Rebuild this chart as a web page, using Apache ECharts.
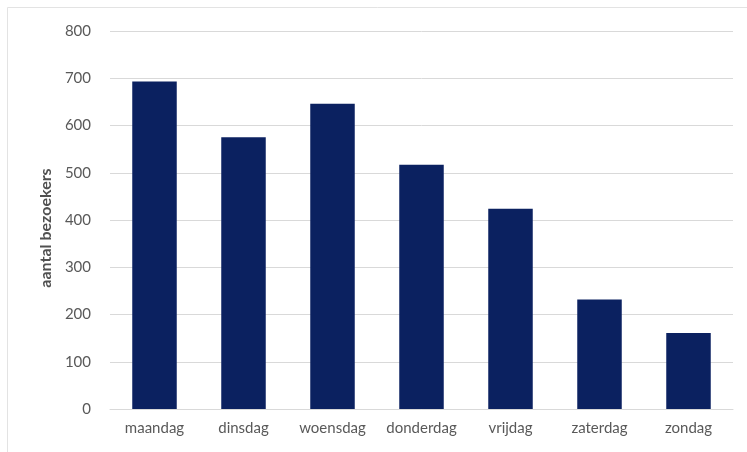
<!DOCTYPE html>
<html>
<head>
<meta charset="utf-8">
<script src="https://cdn.jsdelivr.net/npm/echarts@6/dist/echarts.min.js"></script>
<style>
  html, body { margin: 0; padding: 0; background: #fff; }
  #chart { width: 747px; height: 452px; }
</style>
</head>
<body>
<div id="chart"></div>
<script>
// dagen van de week
const days = ['maandag', 'dinsdag', 'woensdag', 'donderdag', 'vrijdag', 'zaterdag', 'zondag'];
// aantal bezoekers per dag
const visitors = [693, 575, 646, 517, 424, 232, 161];
const yMin = 0;
const yMax = 800;
const yStep = 100;

const myChart = echarts.init(document.getElementById('chart'));

myChart.setOption({
  animation: false,
  textStyle: { fontFamily: 'Lato' },
  graphic: [
    // dunne rand links en boven
    { type: 'line', shape: { x1: 7.5, y1: 7.5, x2: 747, y2: 7.5 }, style: { stroke: '#e3e3e3', lineWidth: 1 } },
    { type: 'line', shape: { x1: 7.5, y1: 7.5, x2: 7.5, y2: 452 }, style: { stroke: '#e3e3e3', lineWidth: 1 } }
  ],
  grid: {
    left: 110,
    right: 14,
    top: 31,
    bottom: 43
  },
  xAxis: {
    type: 'category',
    data: days,
    axisLine: { lineStyle: { color: '#d9d9d9', width: 1 } },
    axisTick: { show: false },
    axisLabel: {
      color: '#595959',
      fontSize: 15,
      margin: 12,
      interval: 0
    }
  },
  yAxis: {
    type: 'value',
    min: yMin,
    max: yMax,
    interval: yStep,
    name: 'aantal bezoekers',
    nameLocation: 'middle',
    nameGap: 56,
    nameTextStyle: {
      color: '#505050',
      fontSize: 16,
      fontWeight: 'bold',
      padding: [0, 16, 0, 0]
    },
    axisLine: { show: false },
    axisTick: { show: false },
    axisLabel: {
      color: '#595959',
      fontSize: 15,
      margin: 19
    },
    splitLine: {
      lineStyle: { color: '#d9d9d9', width: 1 }
    }
  },
  series: [{
    type: 'bar',
    data: visitors,
    barWidth: '50%',
    itemStyle: { color: '#0b2160' }
  }]
});
</script>
</body>
</html>
